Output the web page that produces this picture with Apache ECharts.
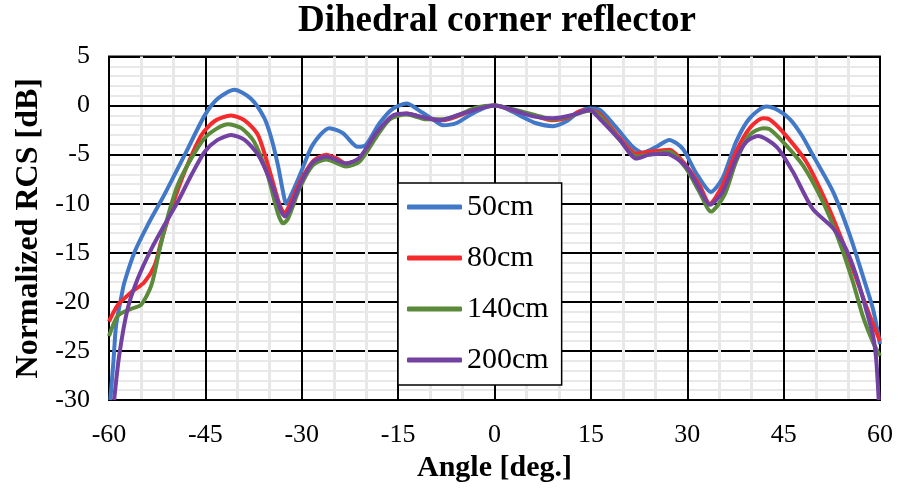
<!DOCTYPE html>
<html>
<head>
<meta charset="utf-8">
<script src="https://cdn.jsdelivr.net/npm/echarts@6/dist/echarts.min.js"></script>
<style>
  html, body { margin: 0; padding: 0; background: #fff; }
  #chart { width: 898px; height: 488px; }
</style>
</head>
<body>
<div id="chart"></div>
<script>
// Normalized RCS patterns of a dihedral corner reflector, [angle (deg), RCS (dB)]
const cm50 = [
  [-59.8, -30], [-59.3, -26], [-58.9, -22.4], [-58, -19.2], [-57.6, -18.0], [-56, -14.9],
  [-54, -12.2], [-51.4, -9.1], [-48.2, -5.0], [-45.1, -1.0], [-43.1, 0.7], [-40.5, 1.6],
  [-37.9, 0.7], [-35.8, -1.3], [-34.7, -3.4], [-33.7, -6.1], [-33, -8.5], [-32.4, -10.0],
  [-31.5, -8.9], [-30.3, -7.1], [-28.3, -4.0], [-25.7, -2.3], [-23.6, -2.8], [-21.3, -4.2],
  [-20, -4.0], [-17.9, -1.8], [-15.8, -0.3], [-13.7, 0.2], [-11.5, -0.6], [-9.6, -1.4],
  [-8, -2.0], [-6, -1.8], [-3.4, -0.8], [-1.5, -0.2], [0, 0], [1.5, -0.2], [3.9, -1.0],
  [6.5, -1.8], [9.1, -2.1], [11.2, -1.6], [13.2, -0.6], [14.8, -0.3], [16.3, -0.4],
  [18.9, -2.2], [21.5, -4.2], [23.1, -4.8], [25.2, -4.2], [27.2, -3.5], [29.3, -4.4],
  [31.4, -6.9], [33.7, -8.8], [35.5, -7.4], [37.6, -3.7], [39.7, -1.3], [42.3, -0.1],
  [44.2, -0.5], [46, -1.4], [47.8, -3.0], [49.5, -5.0], [52.7, -8.8], [55.3, -13.2],
  [57.3, -17.3], [58.9, -20.7], [60, -24.3]
];
const cm80 = [
  [-60, -22], [-58.6, -20.3], [-56.5, -19.0], [-54.5, -18.0], [-52.9, -16.3], [-51.9, -13.9],
  [-50.3, -10.5], [-48.2, -6.7], [-45.6, -3.0], [-43.6, -1.6], [-41, -1.0], [-38.9, -1.5],
  [-36.8, -3.0], [-34.8, -7.1], [-33.5, -10.0], [-32.7, -11.0], [-31.8, -10.0], [-30.3, -7.8],
  [-28.3, -5.7], [-26.2, -5.0], [-24.5, -5.4], [-23.1, -5.9], [-21, -5.4], [-18.4, -3.0],
  [-16.3, -1.3], [-13.7, -0.8], [-10.6, -1.3], [-8, -1.5], [-5.4, -1.0], [-2.8, -0.3],
  [0, 0], [3, -0.5], [6.5, -1.1], [9.1, -1.5], [11.5, -1.2], [13.2, -0.6], [14.8, -0.5],
  [16.3, -0.8], [19.5, -3.3], [22.1, -4.9], [24.1, -4.7], [27.2, -4.5], [29.8, -6.1],
  [31.9, -8.1], [33.5, -10.0], [35.5, -8.1], [37.6, -4.7], [39.7, -2.3], [41.8, -1.3],
  [42.8, -1.4], [44.9, -2.7], [48.5, -5.7], [51.6, -9.8], [54.2, -13.9], [56.3, -17.6],
  [58.4, -21.4], [60, -24]
];
const cm140 = [
  [-60, -23.5], [-58.6, -21.4], [-56.5, -20.7], [-55, -20.3], [-53.4, -18.3], [-52.1, -14.6],
  [-50.8, -11.2], [-49.3, -8.1], [-47.2, -5.4], [-45.1, -3.3], [-43.1, -2.3], [-41.5, -1.9],
  [-39.4, -2.3], [-37.4, -3.7], [-35.3, -7.1], [-33.7, -11.0], [-32.9, -12.0], [-32.2, -11.6],
  [-30.3, -8.4], [-28.3, -6.1], [-26.2, -5.5], [-23.1, -6.2], [-21, -5.7], [-18.4, -3.2],
  [-16.3, -1.4], [-13.7, -0.9], [-10.6, -1.4], [-8, -1.4], [-5.4, -0.9], [-2.8, -0.2],
  [0, 0], [3, -0.4], [6.5, -1.0], [9.1, -1.4], [12.2, -1.0], [14.8, -0.5], [16.3, -1.0],
  [19.5, -3.5], [22.1, -5.2], [24.1, -5.0], [27.2, -4.7], [29.8, -6.4], [31.9, -8.8],
  [33.7, -10.8], [35.8, -9.1], [37.6, -5.7], [39.7, -3.0], [41.8, -2.3], [42.8, -2.4],
  [44.9, -3.7], [48, -6.1], [51.1, -9.8], [53.7, -13.9], [55.8, -18.0], [57.3, -21.4],
  [58.9, -24.1], [60, -25.5]
];
const cm200 = [
  [-59.2, -30], [-58.4, -25.4], [-57.1, -20.7], [-55.5, -17.6], [-53.4, -14.6], [-51.4, -12.2],
  [-49.3, -9.8], [-47.2, -7.1], [-45.1, -4.7], [-43.1, -3.5], [-41, -3.0], [-38.9, -3.5],
  [-36.8, -5.0], [-34.8, -7.8], [-33.2, -10.8], [-32.6, -11.3], [-31.8, -10.5], [-30.3, -8.1],
  [-28.3, -5.8], [-26.2, -5.2], [-23.1, -5.9], [-21, -5.3], [-18.4, -2.8], [-15.8, -1.0],
  [-13.7, -0.8], [-11.7, -1.1], [-8.5, -1.5], [-5.4, -0.9], [-2.3, -0.3], [0, 0],
  [2.9, -0.45], [6, -1.1], [9.1, -1.3], [12.2, -0.95], [14.8, -0.45], [16.3, -1.3],
  [19.5, -3.5], [22.1, -5.4], [24.1, -5.0], [26.7, -4.9], [29.8, -6.2], [31.9, -8.5],
  [33.5, -10.1], [35.5, -8.8], [37.6, -5.4], [39.2, -3.7], [41, -3.1], [43.9, -4.2],
  [46.4, -6.7], [49.5, -10.5], [52.7, -12.5], [54.7, -14.6], [56.3, -17.3], [57.8, -20.7],
  [58.9, -23.4], [59.4, -25.8], [59.8, -30]
];

const seriesNames = ['50cm', '80cm', '140cm', '200cm'];
const seriesData = [cm50, cm80, cm140, cm200];
const seriesColors = ['#4178c8', '#f42a2c', '#5a8a3a', '#7241a2'];

const angleRange = { min: -60, max: 60, step: 15 };
const rcsRange = { min: -30, max: 5, step: 5 };

const serif = 'Liberation Serif';
const chart = echarts.init(document.getElementById('chart'), null, { renderer: 'canvas' });

chart.setOption({
  animation: false,
  backgroundColor: '#fff',
  title: {
    text: 'Dihedral corner reflector',
    left: 298,
    top: 3,
    padding: 0,
    textStyle: { fontFamily: serif, fontWeight: 'bold', fontSize: 37, color: '#000' }
  },
  legend: {
    data: seriesNames,
    orient: 'vertical',
    left: 398,
    top: 183,
    padding: [9, 13, 10, 9],
    itemGap: 21,
    itemWidth: 55,
    itemHeight: 5,
    icon: 'roundRect',
    backgroundColor: '#fff',
    borderColor: '#000',
    borderWidth: 1.5,
    borderRadius: 0,
    textStyle: { fontFamily: serif, fontSize: 30, color: '#000', lineHeight: 30 }
  },
  grid: {
    left: 109, right: 18, top: 56.5, bottom: 88,
    show: true, borderColor: '#000', borderWidth: 2
  },
  xAxis: [{
    type: 'value',
    min: angleRange.min, max: angleRange.max, interval: angleRange.step,
    z: 1,
    name: 'Angle [deg.]',
    nameLocation: 'middle',
    nameGap: 52,
    nameTextStyle: { fontFamily: serif, fontWeight: 'bold', fontSize: 30, color: '#000' },
    axisLine: { onZero: false, lineStyle: { color: '#000', width: 2 } },
    axisTick: { show: false },
    axisLabel: { fontFamily: serif, fontSize: 26, color: '#000', margin: 22 },
    splitLine: { show: true, lineStyle: { color: '#000', width: 2 } },
    minorTick: { show: false, splitNumber: 3 },
    minorSplitLine: { show: true, lineStyle: { color: '#e8e8e8', width: 3 } }
  }, {
    // horizontal axis line crossing at 0 dB
    type: 'value',
    min: angleRange.min, max: angleRange.max,
    z: 2,
    axisLine: { show: true, onZero: true, lineStyle: { color: '#000', width: 2 } },
    axisTick: { show: false },
    axisLabel: { show: false },
    splitLine: { show: false }
  }],
  yAxis: {
    type: 'value',
    min: rcsRange.min, max: rcsRange.max, interval: rcsRange.step,
    z: 0,
    name: 'Normalized RCS [dB]',
    nameLocation: 'middle',
    nameGap: 64,
    nameTextStyle: { fontFamily: serif, fontWeight: 'bold', fontSize: 32, color: '#000' },
    axisLine: { show: true, lineStyle: { color: '#000', width: 2 } },
    axisTick: { show: false },
    axisLabel: { fontFamily: serif, fontSize: 26, color: '#000', margin: 19 },
    splitLine: { show: true, lineStyle: { color: '#000', width: 2 } },
    minorTick: { show: false, splitNumber: 5 },
    minorSplitLine: { show: true, lineStyle: { color: '#e8e8e8', width: 2 } }
  },
  series: seriesNames.map((name, i) => ({
    name,
    type: 'line',
    xAxisIndex: 0,
    data: seriesData[i],
    showSymbol: false,
    smooth: 0.25,
    clip: true,
    z: 3,
    lineStyle: { color: seriesColors[i], width: 4 },
    itemStyle: { color: seriesColors[i] }
  }))
});
</script>
</body>
</html>
